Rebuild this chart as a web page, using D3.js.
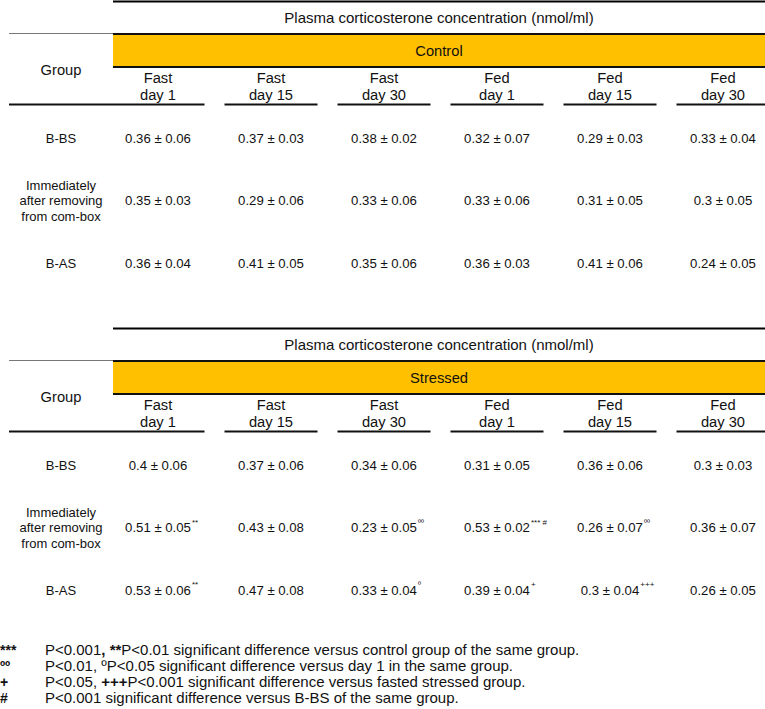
<!DOCTYPE html>
<html>
<head>
<meta charset="utf-8">
<script src="https://cdn.jsdelivr.net/npm/d3@7"></script>
<style>
  body { margin: 0; background: #fff; }
  svg { display: block; }
  text { font-family: "Liberation Sans", Arial, sans-serif; fill: #111; }
</style>
</head>
<body>
<svg id="chart"></svg>
<script>
// column headers (two lines each)
let columns = [['Fast', 'day 1'], ['Fast', 'day 15'], ['Fast', 'day 30'],
	['Fed', 'day 1'], ['Fed', 'day 15'], ['Fed', 'day 30']];
let groups = [['B-BS'], ['Immediately', 'after removing', 'from com-box'], ['B-AS']];

// control table, one array per group row
let controlMean = [
	[0.36, 0.37, 0.38, 0.32, 0.29, 0.33],
	[0.35, 0.29, 0.33, 0.33, 0.31, 0.3],
	[0.36, 0.41, 0.35, 0.36, 0.41, 0.24]
];
let controlSD = [
	['0.06', '0.03', '0.02', '0.07', '0.03', '0.04'],
	['0.03', '0.06', '0.06', '0.06', '0.05', '0.05'],
	['0.04', '0.05', '0.06', '0.03', '0.06', '0.05']
];

// stressed table
let stressedMean = [
	[0.4, 0.37, 0.34, 0.31, 0.36, 0.3],
	[0.51, 0.43, 0.23, 0.53, 0.26, 0.36],
	[0.53, 0.47, 0.33, 0.39, 0.3, 0.26]
];
let stressedSD = [
	['0.06', '0.06', '0.06', '0.05', '0.06', '0.03'],
	['0.05', '0.08', '0.05', '0.02', '0.07', '0.07'],
	['0.06', '0.08', '0.04', '0.04', '0.04', '0.05']
];
let stressedMarks = [
	['', '', '', '', '', ''],
	['**', '', 'ºº', '*** #', 'ºº', ''],
	['**', '', 'º', '+', '+++', '']
];

let footnotes = [
	{sym: '***', parts: [['P<0.001', false], [', **', true], ['P<0.01 significant difference versus control group of the same group.', false]]},
	{sym: 'ºº', parts: [['P<0.01, ºP<0.05 significant difference versus day 1 in the same group.', false]]},
	{sym: '+', parts: [['P<0.05, ', false], ['+++', true], ['P<0.001 significant difference versus fasted stressed group.', false]]},
	{sym: '#', parts: [['P<0.001 significant difference versus B-BS of the same group.', false]]}
];

let w = 765;
let h = 709;
let left = 9;
let colStart = 113;

let svg = d3.select('#chart')
	.attr('width', w)
	.attr('height', h);

let x = d3.scalePoint()
	.domain(d3.range(columns.length))
	.range([158, 723]);

let y = d3.scalePoint()
	.domain(d3.range(groups.length))
	.range([138, 263]);

function drawTable(top, title, means, sds, marks) {
	let g = svg.append('g').attr('transform', `translate(0,${top})`);

	g.append('line')
		.attr('x1', colStart).attr('x2', w)
		.attr('y1', 1.5).attr('y2', 1.5)
		.style('stroke', '#000').style('stroke-width', 2);

	g.append('text')
		.attr('x', (colStart + w) / 2).attr('y', 18)
		.attr('dy', '0.35em')
		.attr('text-anchor', 'middle')
		.style('font-size', '15px')
		.text('Plasma corticosterone concentration (nmol/ml)');

	g.append('line')
		.attr('x1', left).attr('x2', colStart)
		.attr('y1', 33.5).attr('y2', 33.5)
		.style('stroke', '#777').style('stroke-width', 1);

	g.append('rect')
		.attr('x', colStart).attr('y', 34)
		.attr('width', w - colStart).attr('height', 33)
		.style('fill', '#ffc000');

	[34, 67].forEach(yy => {
		g.append('line')
			.attr('x1', colStart).attr('x2', w)
			.attr('y1', yy).attr('y2', yy)
			.style('stroke', '#111').style('stroke-width', 2);
	});

	g.append('text')
		.attr('x', (colStart + w) / 2).attr('y', 51)
		.attr('dy', '0.35em')
		.attr('text-anchor', 'middle')
		.style('font-size', '14.7px')
		.text(title);

	g.append('text')
		.attr('x', 61).attr('y', 70)
		.attr('dy', '0.35em')
		.attr('text-anchor', 'middle')
		.style('font-size', '14.7px')
		.text('Group');

	// column headers
	let heads = g.selectAll('.head')
		.data(columns)
		.enter()
		.append('text')
		.attr('class', 'head')
		.attr('text-anchor', 'middle')
		.style('font-size', '14.7px');
	heads.selectAll('tspan')
		.data((d, i) => d.map(s => ({s: s, i: i})))
		.enter()
		.append('tspan')
		.attr('x', d => x(d.i))
		.attr('y', (d, j) => 78 + j * 17)
		.attr('dy', '0.35em')
		.text(d => d.s);

	// header underline segments
	let step = x.step();
	g.selectAll('.under')
		.data(columns)
		.enter()
		.append('line')
		.attr('x1', (d, i) => i == 0 ? left : x(i) - step / 2 + 10)
		.attr('x2', (d, i) => i == columns.length - 1 ? w : x(i) + step / 2 - 10)
		.attr('y1', 104.5).attr('y2', 104.5)
		.style('stroke', '#111').style('stroke-width', 2);

	// group labels
	let labels = g.selectAll('.grp')
		.data(groups)
		.enter()
		.append('text')
		.attr('class', 'grp')
		.attr('text-anchor', 'middle')
		.style('font-size', '13px');
	labels.selectAll('tspan')
		.data((d, i) => d.map((s, j) => ({s: s, i: i, j: j, n: d.length})))
		.enter()
		.append('tspan')
		.attr('x', 61)
		.attr('y', d => y(d.i) + (d.j - (d.n - 1) / 2) * 15.5)
		.attr('dy', '0.35em')
		.text(d => d.s);

	// cells
	means.forEach((row, r) => {
		row.forEach((m, c) => {
			let t = g.append('text')
				.attr('x', x(c)).attr('y', y(r))
				.attr('dy', '0.35em')
				.attr('text-anchor', 'middle')
				.style('font-size', '13.2px')
				.text(`${m} ± ${sds[r][c]}`);
			let mk = marks ? marks[r][c] : '';
			if (mk) {
				let len = t.node().getComputedTextLength();
				g.append('text')
					.attr('x', x(c) + len / 2 + 1)
					.attr('y', y(r) - 3)
					.style('font-size', '8px')
					.text(mk);
			}
		});
	});
}

drawTable(0, 'Control', controlMean, controlSD, null);
drawTable(327, 'Stressed', stressedMean, stressedSD, stressedMarks);

// footnotes
let fy = d3.scalePoint()
	.domain(d3.range(footnotes.length))
	.range([655, 703]);

footnotes.forEach((f, i) => {
	svg.append('text')
		.attr('x', 0).attr('y', fy(i))
		.style('font-size', '14px')
		.style('font-weight', 'bold')
		.text(f.sym);
	let t = svg.append('text')
		.attr('x', 45).attr('y', fy(i))
		.style('font-size', '15px');
	f.parts.forEach(p => {
		t.append('tspan')
			.style('font-weight', p[1] ? 'bold' : 'normal')
			.text(p[0]);
	});
});
</script>
</body>
</html>
